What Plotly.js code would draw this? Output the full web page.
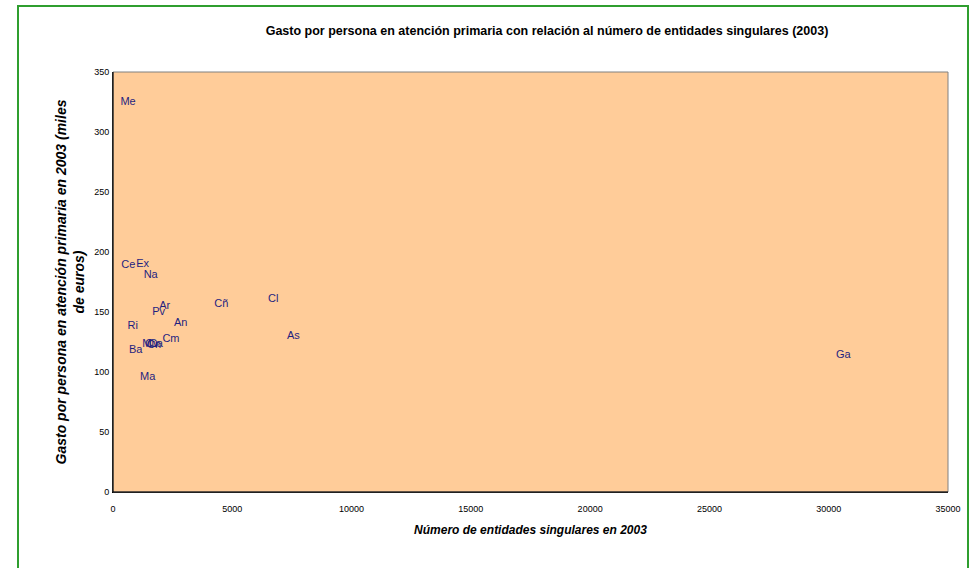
<!DOCTYPE html>
<html>
<head>
<meta charset="utf-8">
<script src="https://cdn.plot.ly/plotly-3.0.1.min.js"></script>
<style>html,body{margin:0;padding:0;background:#fff;}#chart{width:975px;height:568px;}</style>
</head>
<body>
<div id="chart"></div>
<script>
// Regional labels
const labels = ["Me","Ce","Ex","Na","Ar","Pv","An","Ri","Cm","Mu","Cv","Cn","Ca","Ba","Ma","Cñ","Cl","As","Ga"];
// Número de entidades singulares en 2003
const entidades = [630,640,1245,1580,2170,1915,2840,830,2430,1550,1630,1720,1800,950,1455,4540,6720,7560,30610];
// Gasto por persona en atención primaria (miles de euros)
const gasto = [325,188.6,190,181,155,149.4,141,137.8,127.5,123,123.5,122.5,123,117.8,96,156.7,160.8,130,113.6];

const xTicks = [0,5000,10000,15000,20000,25000,30000,35000];
const yTicks = [0,50,100,150,200,250,300,350];

const trace = {
  type: "scatter",
  mode: "text",
  x: entidades,
  y: gasto,
  text: labels,
  textposition: "middle center",
  textfont: {family: "Liberation Sans, Arial, sans-serif", size: 11, color: "#1f1f80"},
  hoverinfo: "x+y+text",
  showlegend: false
};

const layout = {
  width: 975, height: 568,
  margin: {l: 113, r: 27, t: 72, b: 76},
  paper_bgcolor: "#ffffff",
  plot_bgcolor: "#ffcc99",
  font: {family: "Liberation Sans, Arial, sans-serif", color: "#000"},
  title: {
    text: "<b>Gasto por persona en atención primaria con relación al número de entidades singulares (2003)</b>",
    font: {size: 12.5, color: "#000"},
    x: 547/975, xanchor: "center", y: 1 - 31/568, yanchor: "middle"
  },
  xaxis: {
    range: [0, 35000],
    tickvals: xTicks,
    ticktext: xTicks.map(String),
    showgrid: false, zeroline: false,
    showline: true, linecolor: "#000", linewidth: 1,
    ticks: "outside", ticklen: 8, tickcolor: "rgba(0,0,0,0)",
    tickfont: {size: 9, family: "Liberation Sans Narrow, Liberation Sans, Arial, sans-serif"},
    title: {text: "<b><i>Número de entidades singulares en 2003</i></b>", font: {size: 12}, standoff: 12}
  },
  yaxis: {
    range: [0, 350],
    tickvals: yTicks,
    ticktext: yTicks.map(String),
    showgrid: false, zeroline: false,
    showline: true, linecolor: "#000", linewidth: 1,
    ticks: "outside", ticklen: 1, tickcolor: "rgba(0,0,0,0)",
    tickfont: {size: 9, family: "Liberation Sans Narrow, Liberation Sans, Arial, sans-serif"},
    title: {text: "<b><i>Gasto por persona en atención primaria en 2003 (miles<br>de euros)</i></b>", font: {size: 14}, standoff: 6}
  },
  shapes: [
    {type: "rect", xref: "paper", yref: "paper", x0: 0, x1: 1, y0: 0, y1: 1,
     line: {color: "#808080", width: 1}, fillcolor: "rgba(0,0,0,0)", layer: "above"},
    {type: "line", xref: "paper", yref: "paper", x0: 0, x1: 0, y0: 0, y1: 1, line: {color: "#000", width: 1}, layer: "above"},
    {type: "line", xref: "paper", yref: "paper", x0: 0, x1: 1, y0: 0, y1: 0, line: {color: "#000", width: 1}, layer: "above"},
    {type: "rect", xref: "paper", yref: "paper",
     x0: (18 - 113) / 835, x1: (968 - 113) / 835,
     y0: (492 - 590) / 420, y1: (492 - 6) / 420,
     line: {color: "#2f9e2f", width: 2}, fillcolor: "rgba(0,0,0,0)"}
  ]
};

Plotly.newPlot("chart", [trace], layout, {displayModeBar: false, staticPlot: true});
</script>
</body>
</html>
